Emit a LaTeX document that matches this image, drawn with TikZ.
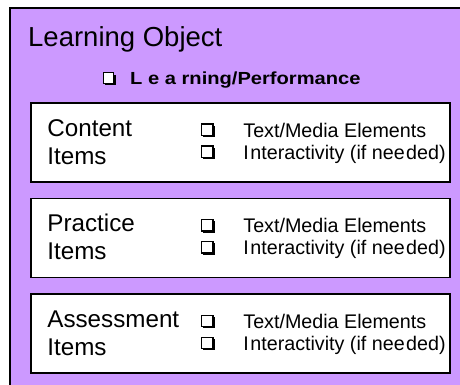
\documentclass[tikz,border=0pt]{standalone}
\usepackage{fontspec}
\setmainfont{Liberation Sans}
\newfontfamily\widefont[FakeStretch=1.15]{Liberation Sans}
\usetikzlibrary{positioning,shadows}

\definecolor{lopurple}{RGB}{204,153,255}

\begin{document}
\begin{tikzpicture}[x=1pt,y=-1pt,node distance=15pt,
  item box/.style={draw,line width=1.6pt,fill=white,minimum width=419pt,minimum height=79pt,inner sep=0pt},
  item name/.style={anchor=base west,inner sep=0pt,align=left,font=\fontsize{24.2}{28}\selectfont},
  item list/.style={anchor=base west,inner sep=0pt,align=left,font=\fontsize{19.7}{22}\selectfont},
  chk box/.style={draw,line width=1.2pt,fill=white,inner sep=0pt,minimum size=11.5pt,
    drop shadow={shadow xshift=1.8pt,shadow yshift=-1.8pt,opacity=1,fill=black}}]

	\useasboundingbox (0,0) rectangle (460,385);
	\draw[line width=2pt,fill=lopurple] (10,8) rectangle (480,400);
	
	\node[anchor=base west,inner sep=0pt,font=\fontsize{27.5}{30}\selectfont] (title) at (28,47) {Learning Object};
	\node[chk box,minimum size=10.5pt] (goal-chk) at (108.5,78) {};
	\node[anchor=base west,inner sep=0pt,font=\widefont\bfseries\fontsize{17.5}{20}\selectfont] (goal) at (130,85) {L e a rning/Performance};
	
	\node[item box] (content) at (240.5,142.5) {};
	\node[item box,below=of content] (practice) {};
	\node[item box,below=of practice] (assess) {};
	
	% base anchors sit on the last line
	\foreach \itm/\name in {content/Content,practice/Practice,assess/Assessment}{
		\node[item name] (\itm-name) at ([shift={(17pt,-62pt)}]\itm.north west) {\name\\Items};
		\node[chk box] (\itm-chk1) at ([shift={(177pt,-27.5pt)}]\itm.north west) {};
		\node[chk box] (\itm-chk2) at ([shift={(177pt,-49.5pt)}]\itm.north west) {};
		\node[item list] (\itm-list) at ([shift={(213pt,-57pt)}]\itm.north west) {Text/Media Elements\\I\kern1.5pt nteractivity (if nee\kern1.5pt ded)};
	}
\end{tikzpicture}
\end{document}
